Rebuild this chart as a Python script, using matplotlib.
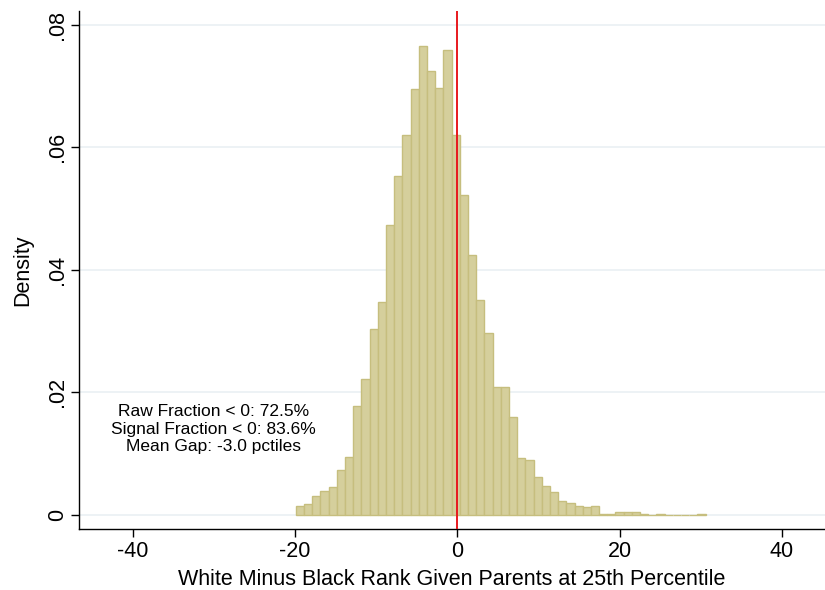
import numpy as np
import matplotlib.pyplot as plt

plt.rcParams['font.family'] = ['Liberation Sans', 'DejaVu Sans']
plt.rcParams['axes.unicode_minus'] = False

# histogram: 50 bins starting at -19.9, width 1.01
bin_start = -19.9
bin_width = 1.01
density = [
    0.0015, 0.0018, 0.0031, 0.0039, 0.0046, 0.0073, 0.0095, 0.0178, 0.0222, 0.0304,
    0.0347, 0.0473, 0.0554, 0.0620, 0.0696, 0.0766, 0.0725, 0.0697, 0.0759, 0.0620,
    0.0523, 0.0424, 0.0351, 0.0297, 0.0208, 0.0209, 0.0159, 0.0093, 0.0089, 0.0061,
    0.0047, 0.0038, 0.0023, 0.0020, 0.0015, 0.0013, 0.0014, 0.0001, 0.0002, 0.0004,
    0.0004, 0.0005, 0.0002, 0.0, 0.0001, 0.0, 0.0, 0.0, 0.0, 0.0001,
]

x_ticks = [-40, -20, 0, 20, 40]
y_ticks = [0, 0.02, 0.04, 0.06, 0.08]
y_labels = ['0', '.02', '.04', '.06', '.08']

stats_text = ['Raw Fraction < 0: 72.5%',
              'Signal Fraction < 0: 83.6%',
              'Mean Gap: -3.0 pctiles']

fig = plt.figure(figsize=(8.25, 5.9), dpi=100)
ax = fig.add_axes([0.0958, 0.1036, 0.9042, 0.878])

edges = bin_start + bin_width * np.arange(len(density))
ax.bar(edges, density, width=bin_width, align='edge',
       color='#D5CF9C', edgecolor='#C6BE7E', linewidth=1.0, zorder=2)

ax.axvline(0, color='#E8191E', linewidth=1.4, zorder=3)

ax.set_xlim(-46.6, 45.3)
ax.set_ylim(-0.0023, 0.0823)

ax.set_yticks(y_ticks)
ax.set_yticklabels(y_labels, rotation=90, va='center')
ax.set_xticks(x_ticks)
ax.grid(axis='y', color='#EAF0F3', linewidth=1.2, zorder=0)
ax.set_axisbelow(True)

for s in ['top', 'right']:
    ax.spines[s].set_visible(False)
for s in ['left', 'bottom']:
    ax.spines[s].set_linewidth(1.0)

ax.tick_params(axis='both', length=6, width=1.0, labelsize=15.5)
ax.tick_params(axis='y', pad=2)
ax.tick_params(axis='x', pad=3)

ax.set_xlabel('White Minus Black Rank Given Parents at 25th Percentile', fontsize=15.5, labelpad=5)
ax.set_ylabel('Density', fontsize=15.5, labelpad=10)

ax.text(-30.0, 0.014, '\n'.join(stats_text), ha='center', va='center',
        fontsize=12.5, linespacing=1.18)

fig.savefig('out.png', dpi=100)
